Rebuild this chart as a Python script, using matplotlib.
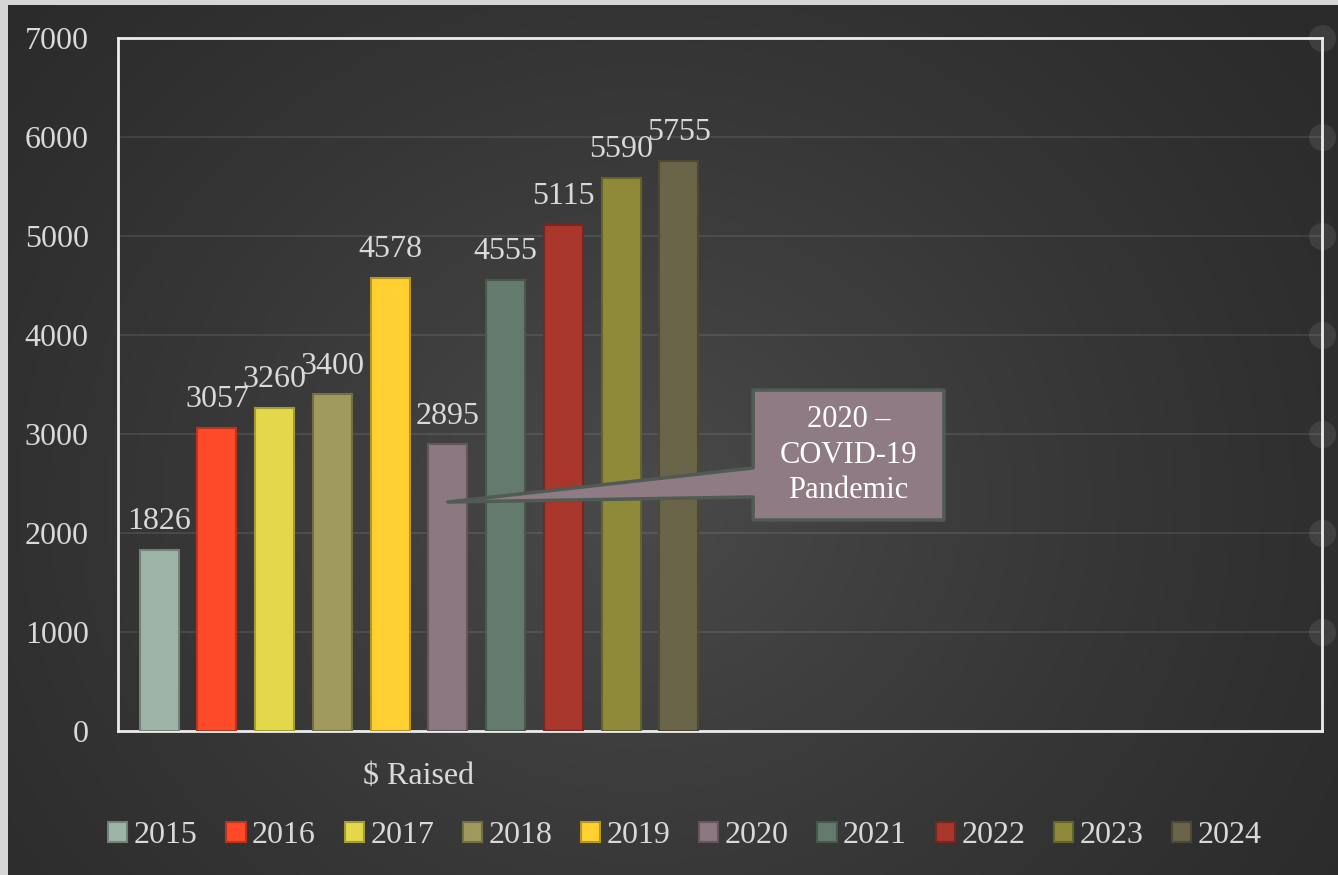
import matplotlib.pyplot as plt
import matplotlib.transforms as mtransforms
from matplotlib.patches import Polygon
from matplotlib.colors import to_rgb
import numpy as np

# data
years = ['2015', '2016', '2017', '2018', '2019', '2020', '2021', '2022', '2023', '2024']
raised = [1826, 3057, 3260, 3400, 4578, 2895, 4555, 5115, 5590, 5755]
colors = ['#9db5a6', '#ff4a2a', '#e2d84a', '#a09a5e', '#ffd030',
          '#8b7880', '#637a6c', '#a8362a', '#8e8a3a', '#6a6448']
categories = ['$ Raised', '']
yticks = [0, 1000, 2000, 3000, 4000, 5000, 6000, 7000]
note = '2020 \u2013\nCOVID-19\nPandemic'

txt = '#d9d9d9'
plt.rcParams['font.family'] = ['Liberation Serif', 'DejaVu Serif']

fig = plt.figure(figsize=(13.38, 8.75), dpi=100)

# dark slide backdrop with a soft light spot, photo strip on top/left
bg = fig.add_axes([0, 0, 1, 1], zorder=-10)
bg.set_axis_off()
H, W = 875, 1338
yy, xx = np.mgrid[0:H, 0:W]
d = np.hypot(xx - 640, (yy - 500) * 1.1)
shade = 0.165 + 0.125 * np.clip(1 - d / 900, 0, 1) ** 1.3
shade = np.dstack([shade] * 3)
shade[:5, :] = 0.84
shade[:, :8] = 0.84
bg.imshow(shade, extent=(0, W, H, 0), aspect='auto', interpolation='bilinear')

ax = fig.add_axes([118 / 1338, 144 / 875, 1204 / 1338, 693 / 875])
ax.set_facecolor('none')

step = 0.0959
width = 0.0648
for i, (yr, val, c) in enumerate(zip(years, raised, colors)):
    edge = tuple(v * 0.72 for v in to_rgb(c))
    bars = ax.bar(i * step - 4.5 * step, val, width, color=c, edgecolor=edge,
                  linewidth=1.5, label=yr, zorder=3)
    ax.bar_label(bars, padding=10, fontsize=23, color=txt)

ax.set_xlim(-0.5, 1.5)
ax.set_ylim(0, 7000)
ax.set_yticks(yticks)
ax.set_xticks(range(len(categories)))
ax.set_xticklabels(categories)
ax.tick_params(axis='y', length=0, pad=21, labelsize=23, labelcolor=txt)
ax.tick_params(axis='x', length=0, pad=22, labelsize=23, labelcolor=txt)
ax.yaxis.grid(True, color='white', alpha=0.09, linewidth=1.5)
ax.set_axisbelow(True)
for s in ax.spines.values():
    s.set_color('#ececec')
    s.set_linewidth(2)

# round markers on the right edge at each gridline
trans = mtransforms.blended_transform_factory(ax.transAxes, ax.transData)
ax.scatter([1] * (len(yticks) - 1), yticks[1:], s=380, color='white', alpha=0.09,
           linewidths=0, transform=trans, clip_on=False, zorder=1)

# callout pointing at the 2020 bar
tip_x = 5 * step - 4.5 * step
callout = Polygon([(0.555, 3444), (0.872, 3444), (0.872, 2131), (0.555, 2131),
                   (0.555, 2364), (tip_x, 2313), (0.555, 2657)],
                  closed=True, facecolor='#8f7b83', edgecolor='#4f5b53',
                  linewidth=2.5, zorder=5, joinstyle='round')
ax.add_patch(callout)
ax.text(0.7135, 2787, note, ha='center', va='center', fontsize=22, color='white',
        linespacing=1.3, zorder=6)

fig.legend(ncol=10, loc='center', bbox_to_anchor=(0.512, 0.045), frameon=False,
           fontsize=23, labelcolor=txt, handlelength=0.6, handleheight=0.6,
           handletextpad=0.2, columnspacing=0.9)

fig.savefig('out.png', dpi=100)
